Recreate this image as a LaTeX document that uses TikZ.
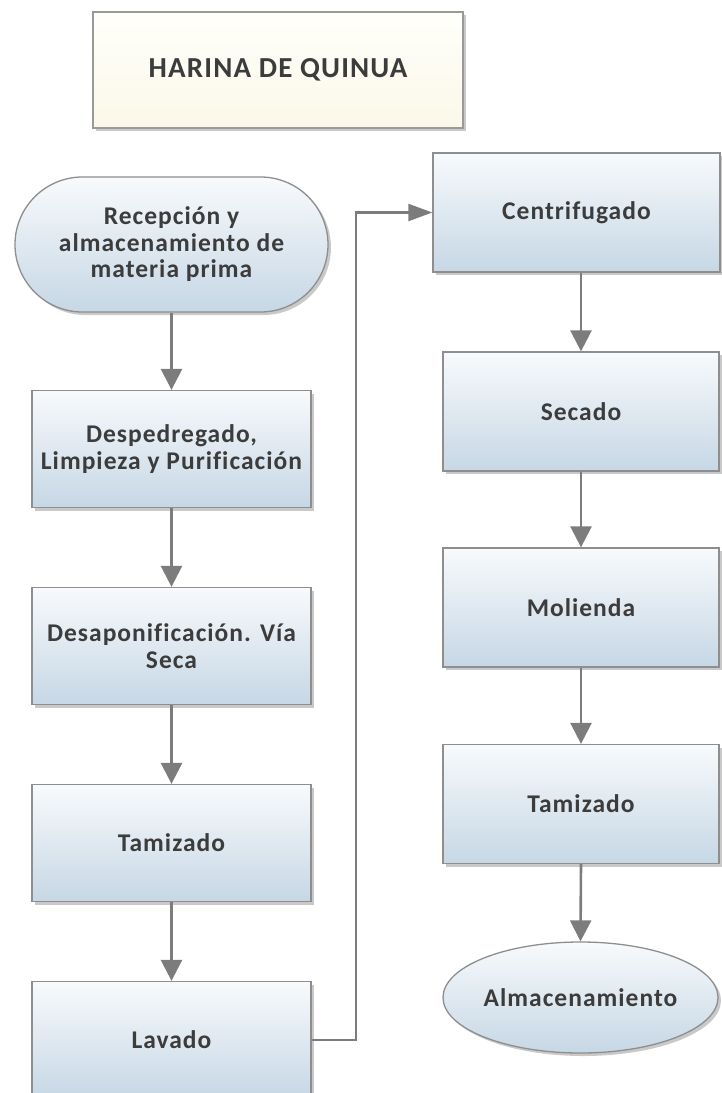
\documentclass[tikz,border=0pt]{standalone}
\usepackage{fontspec}
\setmainfont{Carlito}[LetterSpace=4, Ligatures=NoCommon]
\usetikzlibrary{shapes.misc,shapes.geometric,arrows.meta,shadows}

\definecolor{boxtop}{HTML}{F8FAFC}
\definecolor{boxbot}{HTML}{C6D7E5}
\definecolor{boxline}{HTML}{8E8E8E}
\definecolor{linkgray}{HTML}{7C7C7C}
\definecolor{txtgray}{HTML}{3C3C3C}
\definecolor{creamtop}{HTML}{FFFFFA}
\definecolor{creambot}{HTML}{FBF8EA}

\tikzset{
  softshadow/.style={drop shadow={shadow xshift=3pt,shadow yshift=-3pt,opacity=.3,fill=black!70}},
  procbox/.style={draw=boxline, line width=1.3pt, top color=boxtop, bottom color=boxbot,
    minimum width=279pt, minimum height=117pt, inner sep=0pt, text=txtgray,
    font=\bfseries\fontsize{25.5}{26.5}\selectfont, align=center, softshadow},
  rightbox/.style={procbox, minimum width=276pt, minimum height=119pt},
  terminal/.style={procbox, rounded rectangle, minimum width=313pt, minimum height=135pt},
  endbox/.style={procbox, ellipse, minimum width=275pt, minimum height=111pt},
  titlebox/.style={draw=boxline!90, line width=1.3pt, top color=creamtop, bottom color=creambot,
    minimum width=370pt, minimum height=116pt, inner sep=0pt, text=txtgray,
    font=\bfseries\fontsize{29}{31}\selectfont, softshadow},
  flow/.style={draw=linkgray, line width=2.6pt, -{Triangle[length=21pt,width=21pt]}},
  loopback/.style={draw=linkgray, line width=2.2pt, -{Triangle[length=24pt,width=17pt]}}
}

\begin{document}
\begin{tikzpicture}[x=1pt,y=-1pt]
\useasboundingbox (0,0) rectangle (722,1093);
\clip (0,0) rectangle (722,1093);

% heading
\node[titlebox] (title) at (278,70) {HARINA DE QUINUA};

% left column
\node[terminal] (start) at (171.5,244.5) {Recepción y\\almacenamiento de\\materia prima};
\node[procbox] (desp) at (171.5,449) {Despedregado,\\Limpieza y Purificación};
\node[procbox] (desap) at (171.5,646) {Desaponificación. Vía\\Seca};
\node[procbox] (tam1) at (171.5,843) {Tamizado};
\node[procbox] (lav) at (171.5,1040) {Lavado};

% right column
\node[procbox, minimum width=287pt, minimum height=119pt] (cen) at (576.5,212.5) {Centrifugado};
\node[rightbox] (sec) at (581,411.5) {Secado};
\node[rightbox] (mol) at (581,607.5) {Molienda};
\node[rightbox] (tam2) at (581,804) {Tamizado};
\node[endbox] (alm) at (580.5,997.5) {Almacenamiento};

% left column links
\draw[flow] (start.south) -- (desp.north);
\draw[flow] (desp.south) -- (desap.north);
\draw[flow] (desap.south) -- (tam1.north);
\draw[flow] (tam1.south) -- (lav.north);

% link from the bottom of the left column to the top of the right one
\coordinate (bend) at (356,0);
\draw[loopback] (lav.east) -- (lav.east -| bend) |- (cen.west);

% right column links
\draw[flow] (sec.north |- cen.south) -- (sec.north);
\draw[flow] (sec.south) -- (mol.north);
\draw[flow] (mol.south) -- (tam2.north);
\draw[flow] (tam2.south) -- (alm.north);
\end{tikzpicture}
\end{document}
